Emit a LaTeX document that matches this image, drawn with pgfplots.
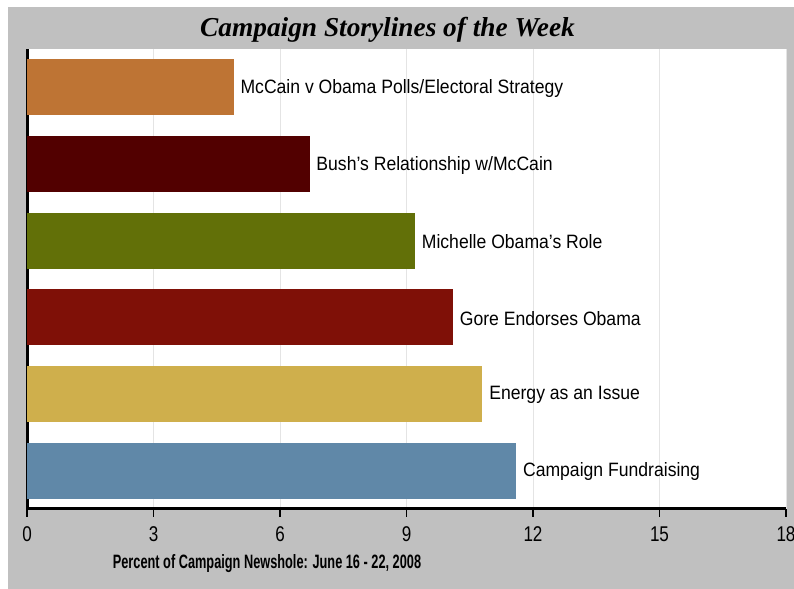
\documentclass[border=0pt]{standalone}
\usepackage{fontspec}
\setmainfont{Liberation Sans}
\newfontfamily\labfont[FakeStretch=0.91]{Liberation Sans}
\newfontfamily\tickfont[FakeStretch=0.8]{Liberation Sans}
\newfontfamily\xlabfont[FakeStretch=0.66]{Liberation Sans}
\newfontfamily\titlefont{Liberation Serif}
\usepackage{pgfplots}
\pgfplotsset{compat=1.18}
\definecolor{bg}{HTML}{C0C0C0}
\definecolor{gridc}{HTML}{E4E4E4}
\definecolor{c1}{HTML}{BE7434}
\definecolor{c2}{HTML}{520000}
\definecolor{c3}{HTML}{627008}
\definecolor{c4}{HTML}{7F1007}
\definecolor{c5}{HTML}{CFAF4C}
\definecolor{c6}{HTML}{6088A8}
\begin{document}
\begin{tikzpicture}[x=0.75pt,y=0.75pt]
\useasboundingbox (0,0) rectangle (794,589);
\fill[white] (0,0) rectangle (794,589);
\fill[bg] (8,0) rectangle (794,582);
\begin{axis}[
  at={(20.25pt,60pt)}, anchor=south west,
  scale only axis, width=569.25pt, height=345pt,
  xbar, bar width=42pt, bar shift=0pt,
  xmin=0, xmax=18, ymin=-0.5, ymax=5.5,
  xtick={0,3,6,9,12,15,18}, ytick=\empty,
  xticklabels={0,3,6,9,12,15,18},
  xmajorgrids, major grid style={color=gridc, line width=0.75pt},
  axis background/.style={fill=white},
  axis x line*=bottom, axis y line*=left,
  axis line style={-, line width=2.25pt, black},
  tick align=outside, major tick length=6pt,
  tick style={black, line width=1.3pt},
  x tick label style={font=\tickfont\fontsize{16}{16}\selectfont},
  xticklabel shift=3.5pt,
  point meta=explicit symbolic,
  nodes near coords,
  every node near coord/.append style={anchor=west, inner sep=0pt, xshift=5pt, yshift=-1pt, text=black,
     font=\labfont\fontsize{14.5}{16}\selectfont},
]
\addplot[fill=c1, draw=none] coordinates {(4.9,5) [McCain v Obama Polls/Electoral Strategy]};
\addplot[fill=c2, draw=none] coordinates {(6.7,4) [Bush’s Relationship w/McCain]};
\addplot[fill=c3, draw=none] coordinates {(9.2,3) [Michelle Obama’s Role]};
\addplot[fill=c4, draw=none] coordinates {(10.1,2) [Gore Endorses Obama]};
\addplot[fill=c5, draw=none] coordinates {(10.8,1) [Energy as an Issue]};
\addplot[fill=c6, draw=none] coordinates {(11.6,0) [Campaign Fundraising]};
\end{axis}
\node[anchor=base, font=\titlefont\bfseries\itshape\fontsize{20.5}{24}\selectfont] at (387.5,552) {Campaign Storylines of the Week};
\node[font=\xlabfont\bfseries\fontsize{14.5}{16}\selectfont] at (267,25) {Percent of Campaign Newshole: June 16 - 22, 2008};
\end{tikzpicture}
\end{document}
